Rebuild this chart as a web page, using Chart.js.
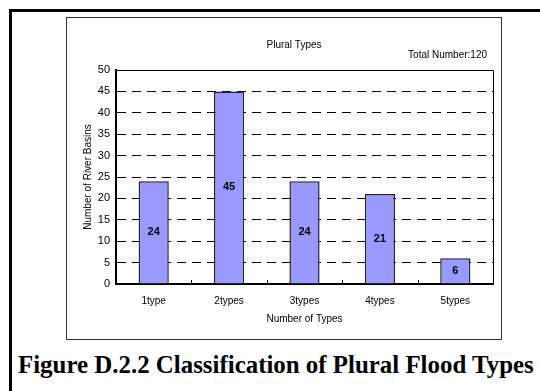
<!DOCTYPE html>
<html>
<head>
<meta charset="utf-8">
<script src="https://cdn.jsdelivr.net/npm/chart.js@4/dist/chart.umd.min.js"></script>
<style>
  html, body { margin: 0; padding: 0; background: #fff; }
  #page { position: relative; width: 540px; height: 391px; overflow: hidden; }
  #frameTop { position: absolute; left: 9px; top: 9px; width: 531px; height: 3px; background: #000; }
  #frameLeft { position: absolute; left: 9px; top: 9px; width: 3px; height: 382px; background: #000; }
  #box { position: absolute; left: 66px; top: 17px; width: 434px; height: 321px; border: 1px solid #333; }
  #box canvas { display: block; }
  #caption { position: absolute; left: 18px; top: 350px; font-family: "Liberation Serif", "Times New Roman", serif;
             font-weight: bold; font-size: 24.9px; line-height: 30px; color: #000; white-space: nowrap; }
</style>
</head>
<body>
<div id="page">
  <div id="frameTop"></div>
  <div id="frameLeft"></div>
  <div id="box"><canvas id="c" width="434" height="321"></canvas></div>
  <div id="caption">Figure D.2.2 Classification of Plural Flood Types</div>
</div>
<script>
// Number of river basins by how many flood types they have
const categories = ['1type', '2types', '3types', '4types', '5types'];
const basinCounts = [24, 45, 24, 21, 6];
const yTicks = [0, 5, 10, 15, 20, 25, 30, 35, 40, 45, 50];
const chartTitle = 'Plural Types';
const totalNote = 'Total Number:120';
const xTitle = 'Number of Types';
const yTitle = 'Number of River Basins';

const textFont = '"Liberation Sans", Arial, sans-serif';

// Frame around the plot, category separators and the value inside each bar
const decorations = {
  id: 'decorations',
  afterDatasetsDraw(chart) {
    const { ctx, chartArea: a, scales: { x } } = chart;
    ctx.save();
    // plot frame: thin top/right, heavier axes drawn by the scales
    ctx.strokeStyle = '#000';
    ctx.lineWidth = 1;
    ctx.beginPath();
    ctx.moveTo(a.left, a.top + 0.5);
    ctx.lineTo(a.right + 0.5, a.top + 0.5);
    ctx.lineTo(a.right + 0.5, a.bottom);
    ctx.stroke();
    // short marks between categories, pointing up from the axis
    ctx.beginPath();
    for (let i = 1; i < categories.length; i++) {
      const px = Math.round((x.getPixelForValue(i - 1) + x.getPixelForValue(i)) / 2) + 0.5;
      ctx.moveTo(px, a.bottom);
      ctx.lineTo(px, a.bottom - 4);
    }
    ctx.stroke();
    // value labels centred in the bars
    ctx.fillStyle = '#000';
    ctx.font = 'bold 11px ' + textFont;
    ctx.textAlign = 'center';
    ctx.textBaseline = 'middle';
    chart.getDatasetMeta(0).data.forEach((bar, i) => {
      const v = chart.data.datasets[0].data[i];
      ctx.fillText(String(v), bar.x, (bar.y + bar.base) / 2);
    });
    // headings above the plot
    ctx.font = '10px ' + textFont;
    ctx.fillText(chartTitle, chart.width / 2 + 10, 27);
    ctx.textAlign = 'right';
    ctx.fillText(totalNote, a.right - 6, 37);
    ctx.restore();
  }
};

new Chart(document.getElementById('c'), {
  type: 'bar',
  data: {
    labels: categories,
    datasets: [{
      data: basinCounts,
      backgroundColor: '#9999ff',
      borderColor: '#222',
      borderWidth: 1.5,
      borderSkipped: 'bottom',
      categoryPercentage: 1,
      barPercentage: 0.4
    }]
  },
  options: {
    responsive: false,
    animation: false,
    devicePixelRatio: 1,
    layout: { padding: { left: 0, right: 8, top: 52, bottom: 0 } },
    plugins: { legend: { display: false }, title: { display: false }, tooltip: { enabled: false } },
    scales: {
      x: {
        grid: { display: false, drawTicks: false },
        border: { display: true, color: '#000', width: 2 },
        ticks: { color: '#000', font: { family: textFont, size: 10 }, padding: 11, maxRotation: 0 },
        title: { display: true, text: xTitle, color: '#000', font: { family: textFont, size: 10 }, padding: { top: 0, bottom: 14 } },
        afterFit(s) { s.height = 55; }
      },
      y: {
        min: 0, max: 50,
        afterBuildTicks(s) { s.ticks = yTicks.map(v => ({ value: v })); },
        grid: {
          drawTicks: false,
          color: (c) => (c.tick && (c.tick.value === 0 || c.tick.value === 50)) ? 'rgba(0,0,0,0)' : '#000',
          lineWidth: 1
        },
        border: { display: true, color: '#000', width: 2, dash: [9, 6] },
        ticks: { color: '#000', font: { family: textFont, size: 11 }, padding: 6 },
        title: { display: true, text: yTitle, color: '#000', font: { family: textFont, size: 10 }, padding: { top: 15, bottom: 0 } },
        afterFit(s) { s.width = 49; }
      }
    }
  },
  plugins: [decorations]
});
</script>
</body>
</html>
